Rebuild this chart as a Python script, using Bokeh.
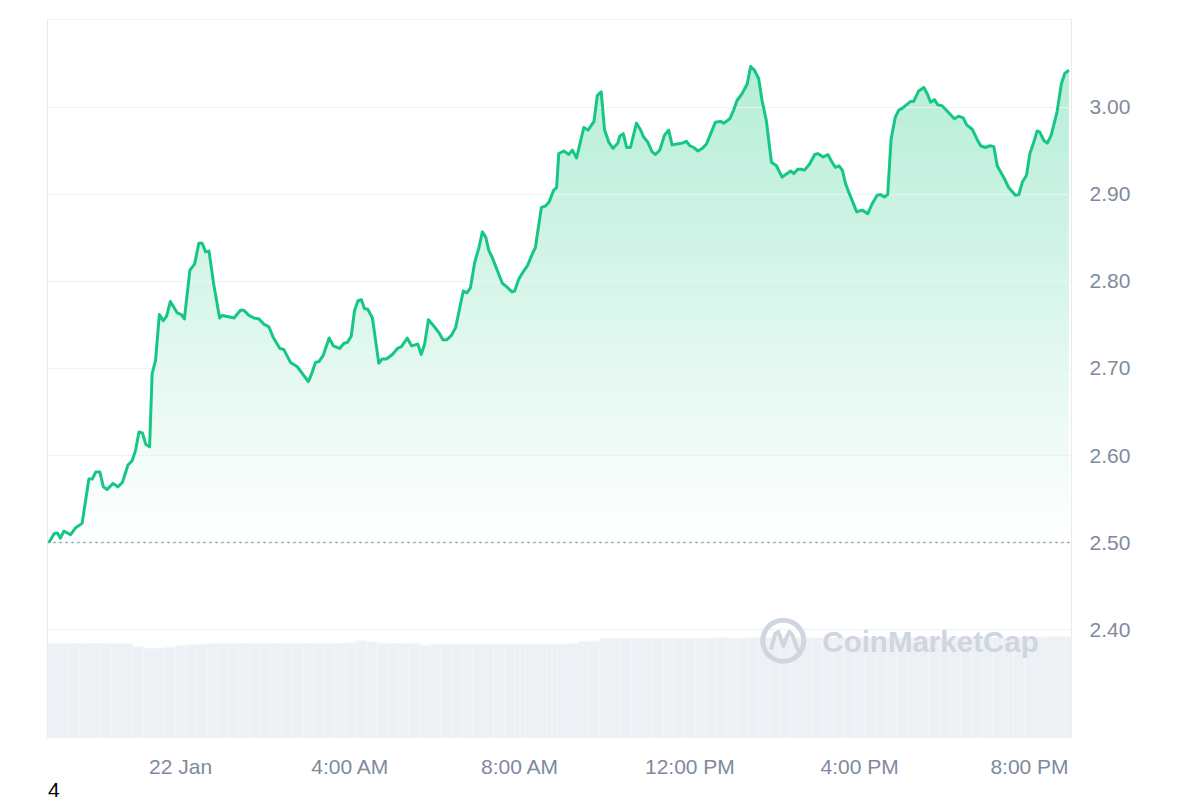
import numpy as np
from bokeh.plotting import figure
from bokeh.layouts import column
from bokeh.models import FixedTicker, Range1d, Span, Label, NumeralTickFormatter, Div
from bokeh.embed import file_html
from bokeh.resources import INLINE

# ---- data (hours relative to 22 Jan 00:00) ----
hours = [-3.10,-2.98,-2.90,-2.83,-2.75,-2.59,-2.47,-2.32,-2.16,-2.08,
         -2.00,-1.90,-1.82,-1.73,-1.59,-1.48,-1.37,-1.24,-1.14,-1.06,
         -0.98,-0.90,-0.82,-0.73,-0.67,-0.59,-0.50,-0.41,-0.33,-0.24,
         -0.08,0.02,0.09,0.22,0.33,0.43,0.51,0.59,0.67,0.78,
         0.92,0.98,1.18,1.26,1.41,1.49,1.61,1.73,1.85,1.96,
         2.08,2.18,2.34,2.43,2.59,2.75,3.01,3.08,3.18,3.26,
         3.36,3.50,3.60,3.75,3.85,3.93,4.02,4.10,4.18,4.26,
         4.33,4.41,4.52,4.67,4.75,4.85,4.99,5.11,5.20,5.34,
         5.44,5.59,5.67,5.75,5.84,5.98,6.09,6.18,6.27,6.38,
         6.48,6.66,6.75,6.83,6.93,7.03,7.11,7.19,7.26,7.34,
         7.46,7.58,7.68,7.81,7.87,7.97,8.07,8.17,8.29,8.36,
         8.50,8.60,8.68,8.79,8.86,8.91,9.03,9.15,9.23,9.33,
         9.50,9.60,9.74,9.82,9.91,9.99,10.09,10.19,10.30,10.35,
         10.43,10.51,10.60,10.74,10.84,10.91,11.01,11.11,11.19,11.29,
         11.40,11.50,11.58,11.70,11.82,11.92,12.00,12.09,12.19,12.29,
         12.39,12.49,12.60,12.72,12.80,12.94,13.03,13.11,13.23,13.35,
         13.43,13.52,13.62,13.70,13.80,13.92,14.04,14.17,14.29,14.37,
         14.45,14.54,14.62,14.70,14.82,14.94,15.01,15.14,15.25,15.35,
         15.43,15.51,15.59,15.67,15.74,15.93,16.06,16.19,16.29,16.41,
         16.49,16.58,16.66,16.74,16.84,16.92,17.00,17.10,17.20,17.27,
         17.39,17.51,17.59,17.67,17.76,17.84,17.94,18.06,18.23,18.33,
         18.44,18.52,18.65,18.77,18.85,18.96,19.07,19.16,19.24,19.40,
         19.51,19.67,19.75,19.83,19.93,20.01,20.10,20.18,20.24,20.34,
         20.42,20.51,20.65,20.75,20.83,20.93]

price = [2.500,2.510,2.511,2.505,2.513,2.509,2.517,2.522,2.573,2.573,
         2.581,2.581,2.564,2.561,2.568,2.564,2.569,2.589,2.594,2.606,
         2.627,2.626,2.613,2.610,2.694,2.709,2.762,2.755,2.760,2.777,
         2.764,2.762,2.757,2.813,2.820,2.844,2.844,2.834,2.835,2.797,
         2.758,2.761,2.759,2.758,2.767,2.767,2.761,2.758,2.757,2.751,
         2.748,2.736,2.723,2.722,2.707,2.702,2.685,2.693,2.707,2.708,
         2.715,2.735,2.726,2.723,2.729,2.730,2.737,2.767,2.778,2.779,
         2.769,2.768,2.758,2.706,2.711,2.711,2.716,2.723,2.725,2.735,
         2.726,2.728,2.716,2.728,2.756,2.748,2.741,2.733,2.733,2.738,
         2.747,2.789,2.787,2.793,2.822,2.839,2.857,2.851,2.836,2.828,
         2.813,2.798,2.794,2.788,2.789,2.803,2.811,2.818,2.832,2.839,
         2.885,2.887,2.891,2.905,2.908,2.947,2.950,2.946,2.951,2.942,
         2.977,2.974,2.984,3.014,3.018,2.974,2.960,2.953,2.959,2.967,
         2.970,2.954,2.954,2.982,2.974,2.966,2.960,2.949,2.946,2.951,
         2.968,2.974,2.957,2.958,2.959,2.961,2.956,2.954,2.950,2.953,
         2.958,2.970,2.983,2.984,2.982,2.987,2.997,3.008,3.016,3.027,
         3.047,3.043,3.033,3.008,2.985,2.937,2.933,2.920,2.924,2.927,
         2.924,2.929,2.929,2.928,2.935,2.946,2.947,2.943,2.946,2.937,
         2.931,2.933,2.928,2.912,2.903,2.880,2.882,2.878,2.889,2.899,
         2.900,2.897,2.900,2.964,2.989,2.997,2.999,3.003,3.007,3.007,
         3.019,3.023,3.016,3.006,3.009,3.003,3.002,2.996,2.987,2.990,
         2.988,2.980,2.975,2.963,2.956,2.954,2.956,2.955,2.933,2.919,
         2.908,2.899,2.900,2.914,2.922,2.947,2.960,2.973,2.972,2.962,
         2.959,2.968,2.995,3.027,3.039,3.043]

# volume bars, one per 15 minutes (relative units)
vol_hours = [-3.0 + 0.25 * i for i in range(97)]
volume = [94.5,94.5,94.6,94.5,94.4,94.5,94.5,94.0,91.0,89.5,
          89.4,90.5,92.0,93.0,93.5,94.0,94.5,94.5,94.6,94.5,
          94.5,94.4,94.5,94.5,94.6,94.5,94.5,94.4,95.0,97.0,
          96.0,94.5,94.6,94.5,94.3,92.5,93.5,93.7,93.8,93.7,
          93.6,93.7,93.7,93.8,93.7,93.6,93.7,93.8,93.7,94.0,
          96.3,96.5,99.5,99.7,99.8,99.7,99.6,99.7,99.8,99.9,
          99.7,99.8,99.9,100.0,99.8,99.9,100.0,100.1,99.9,100.0,
          100.1,100.0,99.9,100.0,100.1,100.0,100.0,100.1,99.9,100.0,
          100.1,100.0,100.0,99.9,100.1,100.2,100.0,100.1,100.0,100.2,
          100.1,100.2,100.3,100.5,101.0,101.0,101.0]

tick_hours = [0, 4, 8, 12, 16, 20]
tick_labels = ["22 Jan", "4:00 AM", "8:00 AM", "12:00 PM", "4:00 PM", "8:00 PM"]
price_ticks = [2.40, 2.50, 2.60, 2.70, 2.80, 2.90, 3.00]
open_price = 2.50
footnote = "4"

GREEN = "#16c784"
GREY_TXT = "#808a9d"
FONT = "Liberation Sans"

Y0, Y1 = 2.2759, 3.1011
p = figure(width=1190, height=780, output_backend="svg", toolbar_location=None,
           x_range=Range1d(-3.135, 20.99), y_range=Range1d(Y0, Y1),
           y_axis_location="right",
           min_border_left=47, min_border_top=19, min_border_right=119, min_border_bottom=43)
p.background_fill_color = "white"
p.border_fill_color = "white"
p.outline_line_color = "#e9ebee"
p.outline_line_width = 1

p.extra_y_ranges = {"vol": Range1d(0, 720)}

# gradient fill under the price line: horizontal bands + white mask above the line
levels = np.linspace(open_price, 3.06, 57)
lo = levels[:-1]
hi = levels[1:]
alphas = 0.32 * ((lo + hi) / 2 - open_price) / (3.05 - open_price)
p.quad(left=hours[0], right=hours[-1], bottom=lo, top=hi, fill_color=GREEN,
       fill_alpha=alphas, line_color=None, level="image")
p.varea(x=hours, y1=price, y2=np.full(len(hours), 3.3), fill_color="white", level="image")

# volume
p.vbar(x=vol_hours, top=volume, bottom=0, width=0.25, y_range_name="vol",
       fill_color="#edf1f5", line_color="#f5f7f9", line_width=0.6)

# open price reference
p.add_layout(Span(location=open_price, dimension="width", line_color="#8f96a3",
                  line_width=1.5, line_dash="2 4"))

# price line
p.line(hours, price, line_color=GREEN, line_width=3, line_join="round")

# watermark
wm = "#d0d6e0"
p.scatter([14.2], [2.387], marker="circle", size=41, fill_color=None,
          line_color=wm, line_width=5)
wx = [14.2 + d / 42.45 for d in (-12, -8, -5, -2, 0, 3, 6, 9, 13, 17)]
wy = [2.387 + d / 870 for d in (-7, 7, 9, 1, -5, 3, 9, 6, -5, -13)]
p.line(wx, wy, line_color=wm, line_width=4, line_join="round", line_cap="round")
p.add_layout(Label(x=15.12, y=2.386, text="CoinMarketCap", text_font=FONT,
                   text_font_style="bold", text_font_size="29.5px", text_color=wm,
                   text_baseline="middle", text_align="left"))

# axes
p.xaxis.ticker = FixedTicker(ticks=tick_hours)
p.xaxis.major_label_overrides = {t: l for t, l in zip(tick_hours, tick_labels)}
p.yaxis.ticker = FixedTicker(ticks=price_ticks)
p.yaxis.formatter = NumeralTickFormatter(format="0.00")
for ax in (p.xaxis, p.yaxis):
    ax.axis_line_color = None
    ax.major_tick_line_color = None
    ax.minor_tick_line_color = None
    ax.major_label_text_font = FONT
    ax.major_label_text_font_size = "21px"
    ax.major_label_text_color = GREY_TXT
p.xaxis.major_label_standoff = 11
p.yaxis.major_label_standoff = 12

p.xgrid.grid_line_color = None
p.ygrid.ticker = FixedTicker(ticks=price_ticks)
p.ygrid.grid_line_color = "#eff2f5"
p.ygrid.grid_line_width = 1

note = Div(text=footnote, width=120, height=20, margin=(0, 0, 0, 0),
           styles={"font-family": FONT, "font-size": "21px", "line-height": "20px",
                   "color": "black", "padding-left": "48px"})

layout = column(p, note, spacing=0)
open("out.html", "w").write(file_html(layout, INLINE))
